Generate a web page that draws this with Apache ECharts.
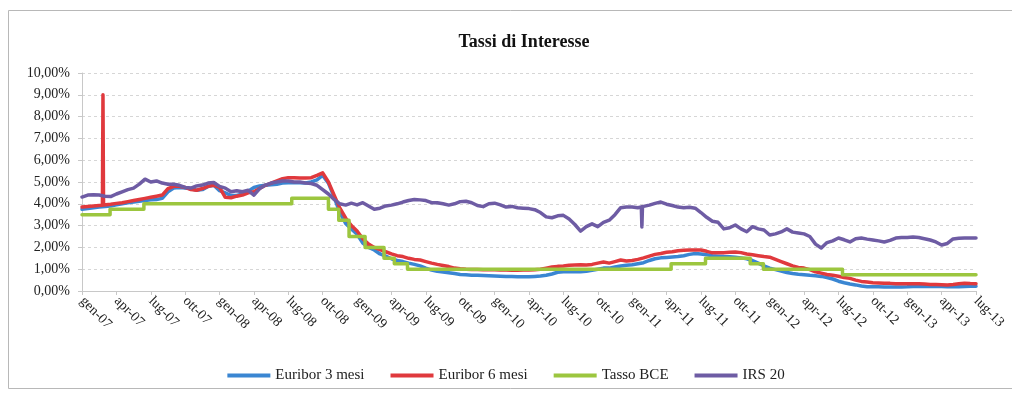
<!DOCTYPE html>
<html>
<head>
<meta charset="utf-8">
<title>Tassi di Interesse</title>
<script src="https://cdn.jsdelivr.net/npm/echarts@6/dist/echarts.min.js"></script>
<style>
  html, body { margin: 0; padding: 0; background: #fff; }
  #chart { width: 1012px; height: 394px; }
</style>
</head>
<body>
<div id="chart"></div>
<script>
// Time runs in months from gen-07 (0) to lug-13 (78); series are sampled every half month.
const monthNames = ['gen', 'feb', 'mar', 'apr', 'mag', 'giu', 'lug', 'ago', 'set', 'ott', 'nov', 'dic'];
const startYear = 7;
const lastMonth = 78;
const tickStep = 3;

const seriesNames = ['Euribor 3 mesi', 'Euribor 6 mesi', 'Tasso BCE', 'IRS 20'];

// Euribor 3 mesi (%), one row per year
const euribor3m = [
  3.75, 3.78, 3.82, 3.85, 3.88, 3.90, 3.95, 4.00, 4.05, 4.08, 4.12, 4.15, 4.18, 4.20, 4.25, 4.55, 4.72, 4.75, 4.72, 4.70, 4.62, 4.65, 4.80, 4.85,
  4.60, 4.50, 4.38, 4.38, 4.45, 4.58, 4.75, 4.82, 4.85, 4.87, 4.90, 4.95, 4.96, 4.97, 4.96, 4.95, 5.00, 5.10, 5.30, 4.95, 4.30, 3.60, 3.10, 2.85,
  2.60, 2.20, 2.00, 1.88, 1.70, 1.60, 1.48, 1.40, 1.35, 1.28, 1.22, 1.15, 1.05, 0.96, 0.90, 0.87, 0.84, 0.80, 0.76, 0.74, 0.72, 0.72, 0.71, 0.70,
  0.69, 0.68, 0.67, 0.66, 0.65, 0.65, 0.65, 0.67, 0.69, 0.72, 0.78, 0.86, 0.88, 0.89, 0.88, 0.88, 0.90, 0.95, 1.00, 1.05, 1.05, 1.10, 1.15, 1.18,
  1.20, 1.25, 1.30, 1.40, 1.48, 1.52, 1.54, 1.56, 1.58, 1.62, 1.68, 1.72, 1.70, 1.66, 1.62, 1.60, 1.58, 1.57, 1.55, 1.52, 1.48, 1.40, 1.28, 1.15,
  1.05, 0.98, 0.92, 0.85, 0.80, 0.77, 0.75, 0.72, 0.70, 0.67, 0.62, 0.55, 0.45, 0.38, 0.32, 0.28, 0.23, 0.20, 0.19, 0.19, 0.18, 0.18, 0.18, 0.18,
  0.19, 0.21, 0.22, 0.21, 0.21, 0.21, 0.21, 0.20, 0.20, 0.20, 0.21, 0.22, 0.22
];

// Euribor 6 mesi (%)
const euribor6m = [
  3.85, 3.88, 3.90, 3.92, 3.95, 3.98, 4.02, 4.05, 4.10, 4.15, 4.20, 4.25, 4.30, 4.35, 4.40, 4.70, 4.80, 4.80, 4.75, 4.65, 4.62, 4.70, 4.80, 4.85,
  4.75, 4.30, 4.28, 4.35, 4.40, 4.50, 4.55, 4.70, 4.85, 4.95, 5.05, 5.15, 5.20, 5.20, 5.18, 5.18, 5.20, 5.30, 5.42, 5.00, 4.40, 3.80, 3.35, 3.00,
  2.75, 2.40, 2.15, 2.00, 1.90, 1.80, 1.70, 1.62, 1.58, 1.50, 1.45, 1.42, 1.35, 1.28, 1.22, 1.17, 1.12, 1.05, 1.02, 1.00, 0.99, 0.99, 0.98, 0.98,
  0.97, 0.96, 0.96, 0.95, 0.95, 0.96, 0.96, 0.98, 1.00, 1.05, 1.10, 1.13, 1.15, 1.18, 1.19, 1.20, 1.19, 1.22, 1.28, 1.33, 1.28, 1.35, 1.42, 1.38,
  1.40, 1.45, 1.52, 1.60, 1.68, 1.72, 1.78, 1.80, 1.85, 1.87, 1.88, 1.88, 1.88, 1.82, 1.75, 1.75, 1.76, 1.78, 1.79, 1.76, 1.70, 1.66, 1.62, 1.58,
  1.55, 1.45, 1.35, 1.25, 1.15, 1.08, 1.05, 0.98, 0.88, 0.82, 0.76, 0.72, 0.68, 0.62, 0.58, 0.50, 0.44, 0.41, 0.38, 0.37, 0.36, 0.35, 0.33, 0.33,
  0.33, 0.33, 0.33, 0.32, 0.30, 0.30, 0.29, 0.28, 0.30, 0.33, 0.36, 0.34, 0.33
];
// one-day jump of the 6-month rate, early March 2007: [month, %]
const euribor6mSpike = [[1.78, 3.93], [1.83, 9.00], [1.88, 3.94]];

// IRS 20 anni (%)
const irs20 = [
  4.31, 4.40, 4.42, 4.40, 4.35, 4.33, 4.45, 4.55, 4.65, 4.72, 4.90, 5.13, 5.00, 5.05, 4.95, 4.90, 4.90, 4.85, 4.75, 4.72, 4.82, 4.86, 4.95, 4.98,
  4.80, 4.72, 4.55, 4.60, 4.55, 4.62, 4.40, 4.70, 4.86, 4.95, 5.00, 5.05, 5.05, 5.00, 5.00, 4.95, 4.93, 4.85, 4.65, 4.45, 4.20, 4.00, 3.94, 4.03,
  3.95, 4.05, 3.90, 3.75, 3.80, 3.90, 3.94, 4.00, 4.08, 4.15, 4.20, 4.18, 4.15, 4.05, 4.05, 4.00, 3.94, 4.00, 4.10, 4.12, 4.05, 3.92, 3.87, 4.00,
  4.03, 3.95, 3.85, 3.88, 3.82, 3.80, 3.78, 3.73, 3.60, 3.40, 3.36, 3.45, 3.47, 3.30, 3.05, 2.75, 2.95, 3.08, 2.95, 3.15, 3.25, 3.50, 3.82, 3.85,
  3.85, 3.82, 3.90, 3.94, 4.02, 4.08, 3.98, 3.92, 3.85, 3.82, 3.84, 3.80, 3.60, 3.38, 3.20, 3.15, 2.85, 2.90, 3.03, 2.85, 2.72, 2.95, 2.85, 2.80,
  2.57, 2.62, 2.71, 2.85, 2.70, 2.66, 2.62, 2.50, 2.15, 1.97, 2.22, 2.30, 2.43, 2.35, 2.25, 2.40, 2.43, 2.38, 2.34, 2.30, 2.25, 2.32, 2.43, 2.45,
  2.45, 2.48, 2.45, 2.40, 2.34, 2.25, 2.11, 2.18, 2.39, 2.42, 2.43, 2.43, 2.43
];
// one-day drop of the swap rate, late January 2011: [month, %]
const irs20Spike = [[48.80, 3.86], [48.85, 2.94], [48.90, 3.87]];

// Tasso BCE: [month of change, new rate %]
const tassoBCE = [
  [0, 3.50], [2.45, 3.75], [5.4, 4.00], [18.3, 4.25], [21.5, 3.75], [22.4, 3.25], [23.3, 2.50],
  [24.7, 2.00], [26.35, 1.50], [27.25, 1.25], [28.4, 1.00], [51.4, 1.25], [54.4, 1.50],
  [58.3, 1.25], [59.45, 1.00], [66.35, 0.75], [78, 0.75]
];

const colors = ['#3A86D2', '#E0393D', '#9CC63F', '#6E5CA4'];

function halfMonthPoints(values, extra) {
  const pts = values.map((v, i) => [i / 2, v]);
  (extra || []).forEach(p => pts.push(p));
  pts.sort((a, b) => a[0] - b[0]);
  return pts;
}

function monthLabel(v) {
  const m = Math.round(v);
  const y = startYear + Math.floor(m / 12);
  return monthNames[m % 12] + '-' + String(y).padStart(2, '0');
}

const serif = '"Liberation Serif", "DejaVu Serif", serif';

const chart = echarts.init(document.getElementById('chart'), null, { renderer: 'canvas' });

function lineSeries(name, data, color, extra) {
  return Object.assign({
    name: name,
    type: 'line',
    data: data,
    symbol: 'none',
    showSymbol: false,
    animation: false,
    lineStyle: { color: color, width: 3.5, join: 'round', cap: 'round' },
    itemStyle: { color: color }
  }, extra || {});
}

chart.setOption({
  backgroundColor: '#ffffff',
  animation: false,
  title: {
    text: 'Tassi di Interesse',
    left: 519,
    textAlign: 'center',
    top: 28,
    textStyle: { fontFamily: serif, fontSize: 18, fontWeight: 'bold', color: '#111' }
  },
  graphic: [{
    type: 'rect',
    shape: { x: 8.5, y: 10.5, width: 1010, height: 378 },
    style: { fill: 'none', stroke: '#b8b8b8', lineWidth: 1 },
    silent: true
  }],
  legend: {
    data: seriesNames,
    top: 363,
    left: 'center',
    itemWidth: 43,
    itemHeight: 4,
    itemGap: 26,
    icon: 'rect',
    textStyle: { fontFamily: serif, fontSize: 15, color: '#222' }
  },
  grid: { left: 82, right: 36, top: 73, bottom: 103, containLabel: false },
  xAxis: {
    type: 'value',
    min: 0,
    max: lastMonth,
    interval: tickStep,
    axisLine: { show: true, lineStyle: { color: '#c8c8c8', width: 1 } },
    axisTick: { show: true, length: 4, lineStyle: { color: '#c8c8c8' } },
    splitLine: { show: false },
    axisLabel: {
      rotate: -45,
      margin: 8,
      formatter: monthLabel,
      fontFamily: serif,
      fontSize: 14,
      color: '#222'
    }
  },
  yAxis: {
    type: 'value',
    min: 0,
    max: 10,
    interval: 1,
    axisLine: { show: true, lineStyle: { color: '#c8c8c8', width: 1 } },
    axisTick: { show: true, length: 4, lineStyle: { color: '#c8c8c8' } },
    splitLine: { show: true, lineStyle: { color: '#d6d6d6', type: [3, 3], width: 1 } },
    axisLabel: {
      margin: 12,
      formatter: v => v.toFixed(2).replace('.', ',') + '%',
      fontFamily: serif,
      fontSize: 14,
      color: '#222'
    }
  },
  series: [
    lineSeries(seriesNames[0], halfMonthPoints(euribor3m), colors[0]),
    lineSeries(seriesNames[1], halfMonthPoints(euribor6m, euribor6mSpike), colors[1]),
    lineSeries(seriesNames[2], tassoBCE, colors[2], { step: 'end' }),
    lineSeries(seriesNames[3], halfMonthPoints(irs20, irs20Spike), colors[3])
  ]
});
</script>
</body>
</html>
